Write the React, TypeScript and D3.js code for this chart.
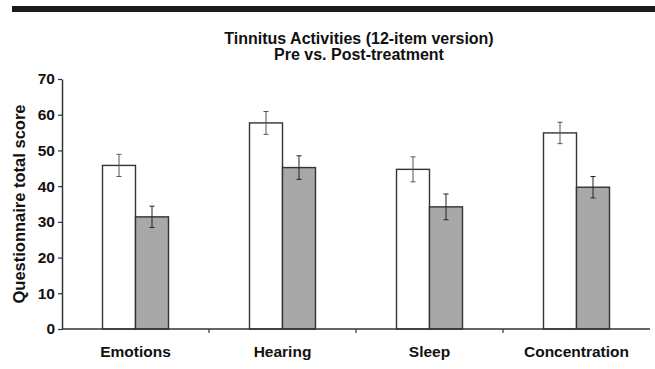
import React, {useEffect, useRef} from 'react';
import * as d3 from "d3";

const categories = ["Emotions", "Hearing", "Sleep", "Concentration"]
const preMeans = [45.8, 57.7, 44.7, 54.9]
const preErr = [3.1, 3.2, 3.5, 3.0]
const postMeans = [31.4, 45.2, 34.2, 39.7]
const postErr = [3.0, 3.3, 3.6, 3.0]
const yTicks = [0, 10, 20, 30, 40, 50, 60, 70]
const titleLines = ["Tinnitus Activities (12-item version)", "Pre vs. Post-treatment"]
const yLabel = "Questionnaire total score"

const App = () => {

  const chart = useRef<SVGSVGElement>(null)

  useEffect(() => {
    const width = 655
    const height = 369
    const margin = {top: 79, bottom: 40, left: 62, right: 5}
    const font = "'Liberation Sans', Arial, sans-serif"

    const svg = d3.select(chart.current)
    .attr("width", width)
    .attr("height", height)

    svg.selectAll("*").remove()

    svg.append("rect")
    .attr("x", 12).attr("y", 6)
    .attr("width", width - 12).attr("height", 6)
    .attr("fill", "#1a1a1a")

    const title = svg.append("text")
    .attr("text-anchor", "middle")
    .attr("font-family", font)
    .attr("font-weight", "bold")
    .attr("font-size", 16)
    .attr("fill", "#111")
    titleLines.forEach((t, i) => {
      title.append("tspan").attr("x", 359).attr("y", 43.5 + i * 16.5).text(t)
    })

    const xScale = d3.scaleBand<string>()
    .domain(categories)
    .range([margin.left, width - margin.right])

    const bw = xScale.bandwidth()
    const barW = 33
    const inner = d3.scaleBand<string>()
    .domain(["pre", "post"])
    .range([bw / 2 - barW, bw / 2 + barW])

    const yScale = d3.scaleLinear()
    .domain([0, 70])
    .range([height - margin.bottom, margin.top])

    const series = [
      {key: "pre", means: preMeans, errs: preErr, fill: "#ffffff", errColor: "#555"},
      {key: "post", means: postMeans, errs: postErr, fill: "#a8a8a8", errColor: "#222"}
    ]

    series.forEach(s => {
      const g = svg.append("g")
      const data = categories.map((c, i) => ({c, v: s.means[i], e: s.errs[i]}))

      g.selectAll("rect")
      .data(data)
      .enter().append("rect")
      .attr("x", d => (xScale(d.c) as number) + (inner(s.key) as number))
      .attr("y", d => yScale(d.v))
      .attr("width", inner.bandwidth())
      .attr("height", d => yScale(0) - yScale(d.v))
      .attr("fill", s.fill)
      .attr("stroke", "#333")
      .attr("stroke-width", 1.4)

      const cx = (d: {c: string}) => (xScale(d.c) as number) + (inner(s.key) as number) + inner.bandwidth() / 2

      g.selectAll("line.err")
      .data(data)
      .enter().append("line")
      .attr("x1", cx).attr("x2", cx)
      .attr("y1", d => yScale(d.v + d.e))
      .attr("y2", d => yScale(d.v - d.e))
      .attr("stroke", s.errColor)
      .attr("stroke-width", 1)

      ;["top", "bottom"].forEach(side => {
        g.selectAll("line." + side)
        .data(data)
        .enter().append("line")
        .attr("x1", d => cx(d) - 2.5).attr("x2", d => cx(d) + 2.5)
        .attr("y1", d => yScale(side === "top" ? d.v + d.e : d.v - d.e))
        .attr("y2", d => yScale(side === "top" ? d.v + d.e : d.v - d.e))
        .attr("stroke", s.errColor)
        .attr("stroke-width", 1)
      })
    })

    // y axis
    const yAxis = svg.append("g")
    .attr("transform", `translate(${margin.left},0)`)
    .call(d3.axisLeft(yScale).tickValues(yTicks).tickSize(4).tickPadding(3).tickSizeOuter(0))
    yAxis.select(".domain").attr("stroke", "#333").attr("stroke-width", 1.5)
    yAxis.selectAll(".tick line").attr("stroke", "#333").attr("stroke-width", 1.2)
    yAxis.selectAll(".tick text")
    .attr("font-family", font)
    .attr("font-weight", "bold")
    .attr("font-size", 15.5)
    .attr("fill", "#111")

    // x axis
    const xAxis = svg.append("g")
    .attr("transform", `translate(0,${yScale(0)})`)
    xAxis.append("line")
    .attr("x1", margin.left).attr("x2", width - margin.right)
    .attr("stroke", "#333").attr("stroke-width", 1.5)
    xAxis.selectAll("line.sep")
    .data(categories.slice(1))
    .enter().append("line")
    .attr("x1", d => xScale(d) as number).attr("x2", d => xScale(d) as number)
    .attr("y1", 0).attr("y2", 4)
    .attr("stroke", "#333").attr("stroke-width", 1.2)
    xAxis.selectAll("text")
    .data(categories)
    .enter().append("text")
    .attr("x", d => (xScale(d) as number) + bw / 2)
    .attr("y", 28)
    .attr("text-anchor", "middle")
    .attr("font-family", font)
    .attr("font-weight", "bold")
    .attr("font-size", 15.5)
    .attr("fill", "#111")
    .text(d => d)

    svg.append("text")
    .attr("transform", `translate(25,${(yScale(0) + yScale(70)) / 2}) rotate(-90)`)
    .attr("text-anchor", "middle")
    .attr("font-family", font)
    .attr("font-weight", "bold")
    .attr("font-size", 16.5)
    .attr("fill", "#111")
    .text(yLabel)

  }, []);

  return (
    <div style={{position: "absolute", left: 0, top: 0, background: "#fff"}}>
      <svg ref={chart} style={{display: "block"}}/>
    </div>
  );
};

export default App;
